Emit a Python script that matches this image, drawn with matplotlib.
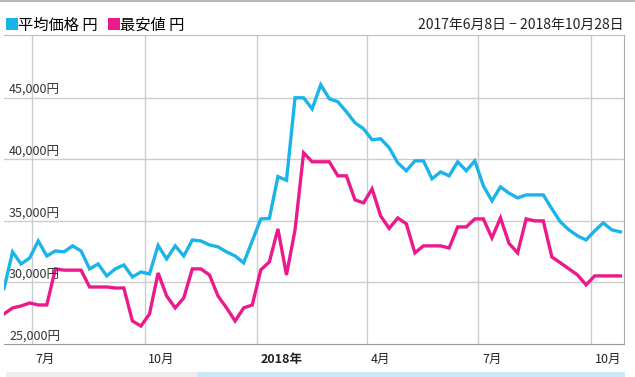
import pandas as pd
import matplotlib
matplotlib.use("Agg")
import matplotlib.pyplot as plt
from matplotlib.lines import Line2D
from matplotlib.patches import Rectangle

plt.rcParams["font.family"] = ["Noto Sans CJK JP", "DejaVu Sans"]

# weekly samples, 2017-06-08 .. 2018-10-25
dates = pd.date_range("2017-06-08", periods=73, freq="7D")

avg_price = [
    29500, 32480, 31500, 31990, 33370, 32150, 32560, 32480, 32970, 32560,
    31100, 31500, 30530, 31100, 31420, 30450, 30850, 30690, 33000, 31910,
    32970, 32150, 33450, 33370, 33050, 32890, 32480, 32150, 31590, 33370,
    35160, 35200, 38600, 38300, 45000, 45000, 44100, 46060, 44920, 44680,
    43860, 42970, 42480, 41590, 41670, 40940, 39720, 39070, 39880, 39880,
    38420, 38980, 38660, 39800, 39070, 39880, 37850, 36630, 37760, 37250,
    36870, 37110, 37110, 37110, 35980, 34920, 34270, 33780, 33450, 34190,
    34840, 34270, 34110,
]
min_price = [
    27440, 27930, 28090, 28330, 28170, 28170, 31100, 31000, 31000, 31000,
    29630, 29630, 29630, 29550, 29550, 26870, 26460, 27440, 30770, 28900,
    27930, 28740, 31100, 31100, 30610, 28900, 27930, 26870, 27930, 28170,
    31020, 31670, 34350, 30610, 34270, 40530, 39800, 39800, 39800, 38660,
    38660, 36710, 36460, 37600, 35400, 34390, 35240, 34760, 32400, 32970,
    32970, 32970, 32800, 34510, 34510, 35160, 35160, 33620, 35240, 33170,
    32400, 35160, 35000, 35000, 32070, 31590, 31100, 30610, 29800, 30530,
    30530, 30530, 30530,
]

series_names = ["平均価格 円", "最安値 円"]
series_colors = ["#1bb4ea", "#ea1a8c"]

y_ticks = [25000, 30000, 35000, 40000, 45000]
month_ticks = pd.to_datetime(["2017-07-01", "2017-10-01", "2018-01-01",
                              "2018-04-01", "2018-07-01", "2018-10-01"])
month_labels = ["7月", "10月", "2018年", "4月", "7月", "10月"]
period_text = "2017年6月8日 − 2018年10月28日"

fig = plt.figure(figsize=(6.35, 3.77), dpi=100)
W, H = 635, 377
ax = fig.add_axes([4 / W, 1 - 344 / H, 620 / W, 309 / H])

ax.plot(dates, avg_price, color=series_colors[0], lw=2.4, solid_joinstyle="miter")
ax.plot(dates, min_price, color=series_colors[1], lw=2.4, solid_joinstyle="miter")

ax.set_xlim(pd.Timestamp("2017-06-08"), pd.Timestamp("2018-10-28"))
ax.set_ylim(25000, 50100)

ax.set_yticks(y_ticks[1:])
ax.set_xticks(month_ticks)
ax.grid(True, color="#cccccc", lw=1)
ax.set_axisbelow(True)
ax.tick_params(length=0, labelleft=False, labelbottom=False)

ax.spines["left"].set_visible(False)
ax.spines["bottom"].set_color("#999999")
ax.spines["top"].set_color("#bbbbbb")
ax.spines["right"].set_color("#aaaaaa")

for v in y_ticks:
    ax.annotate(f"{v:,}円", xy=(0, v), xycoords=("axes fraction", "data"),
                xytext=(3.6, 0.5), textcoords="offset points",
                ha="left", va="bottom", fontsize=9, color="#333333")

for d, lab in zip(month_ticks, month_labels):
    ax.annotate(lab, xy=(d, 0), xycoords=("data", "axes fraction"),
                xytext=(2.5, -10.8), textcoords="offset points",
                ha="left", va="center", fontsize=9, color="#222222",
                fontweight="bold" if "年" in lab else "normal")

handles = [Line2D([], [], ls="none", marker="s", ms=8, color=c,
                  markeredgewidth=0) for c in series_colors]
fig.legend(handles, series_names, loc="center left",
           bbox_to_anchor=(4 / W, 1 - 25 / H), ncol=2, frameon=False,
           fontsize=11, handlelength=0.6, handletextpad=0.1,
           columnspacing=0.8, borderaxespad=0, borderpad=0.2)

fig.text(624 / W, 1 - 24.5 / H, period_text, ha="right", va="center",
         fontsize=10, color="#222222")

# screenshot frame details: top border and scroll strip
fig.add_artist(Line2D([0, 1], [1 - 0.5 / H, 1 - 0.5 / H], color="#aaaaaa", lw=1.2))
fig.add_artist(Rectangle((6 / W, 0), 191 / W, 5 / H, color="#eeeeee", lw=0))
fig.add_artist(Rectangle((197 / W, 0), 428 / W, 5 / H, color="#c9e9f7", lw=0))

fig.savefig("out.png", dpi=100)
